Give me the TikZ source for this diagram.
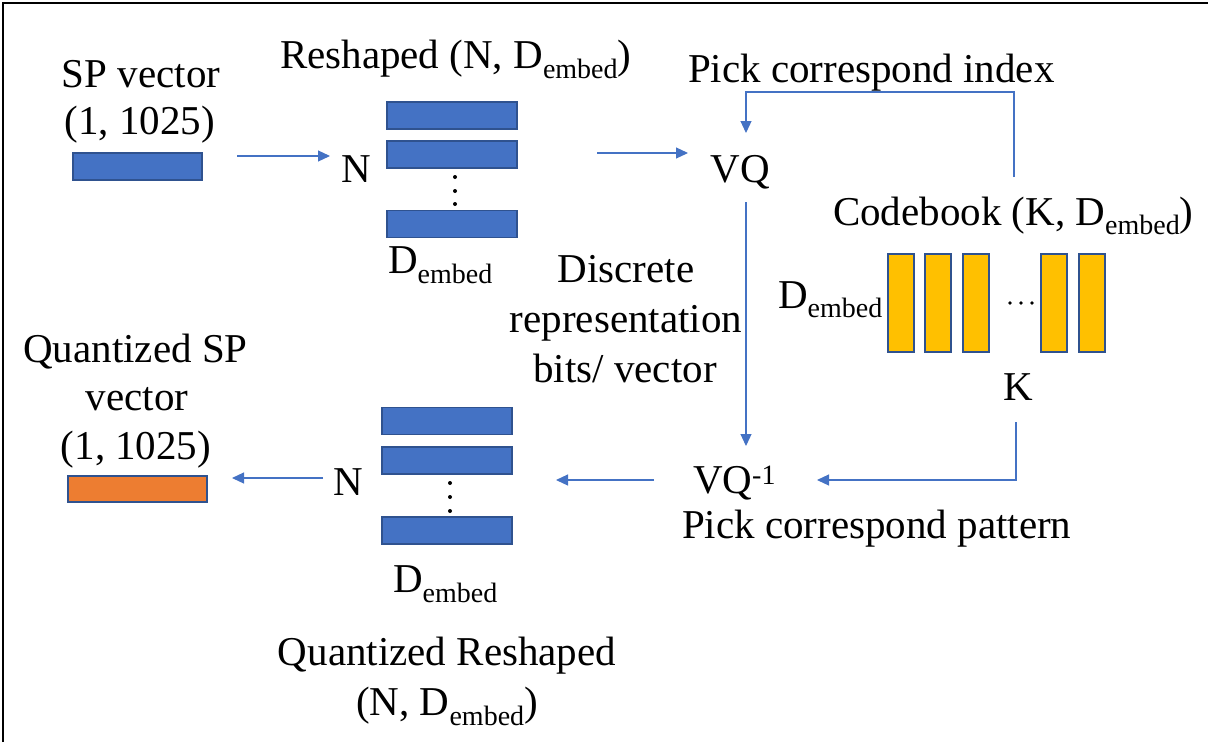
\documentclass[tikz,border=0pt]{standalone}
\usepackage{fontspec}
\setmainfont{LiberationSerif}[Extension=.ttf, UprightFont=*-Regular, BoldFont=*-Bold, ItalicFont=*-Italic]
\usetikzlibrary{arrows.meta}

\definecolor{barblue}{HTML}{4472C4}
\definecolor{edgeblue}{HTML}{2F528F}
\definecolor{barorange}{HTML}{ED7D31}
\definecolor{baryellow}{HTML}{FFC000}
\definecolor{arrowblue}{HTML}{4472C4}

\newcommand{\bigfont}{\fontsize{41}{49}\selectfont}
\newcommand{\subfont}{\fontsize{28}{28}\selectfont}
\newcommand{\Demb}[1][10pt]{D\raisebox{-#1}{\subfont embed}}

\tikzset{
  every node/.style={font=\bigfont, inner sep=0pt, outer sep=0pt},
  label/.style={anchor=base},
  labelw/.style={anchor=base west},
  bar/.style={draw=edgeblue, line width=1.3pt, minimum width=130pt, minimum height=27pt},
  bluebar/.style={bar, fill=barblue},
  orangebar/.style={bar, fill=barorange, minimum width=139pt, minimum height=26pt},
  codebar/.style={draw=edgeblue, line width=1.3pt, fill=baryellow, minimum width=26pt, minimum height=98pt},
  flow/.style={draw=arrowblue, line width=1.2pt, -{Triangle[length=12pt,width=11pt]}},
  dot/.style={circle, fill=black, minimum size=4pt}
}

\begin{document}
\begin{tikzpicture}[x=1pt, y=-1pt]
\useasboundingbox (0,0) rectangle (1208,742);

% frame on the top and left edges
\draw[line width=2.2pt] (3,742) -- (3,3) -- (1208,3);

% ---- input vector ----
\node[label] (spTitle) at (141,87) {SP vector};
\node[label] (spDim) at (140,134) {(1, 1025)};
\node[bluebar, minimum width=129pt] (spRect) at (137.5,166.5) {};

% ---- reshaped matrix ----
\node[labelw] (resTitle) at (280,68) {Reshaped (N, \Demb)};
\node[label] (nTop) at (356,182) {N};
\node[bluebar] (r1) at (452,115.5) {};
\node[bluebar] (r2) at (452,154.5) {};
\node[bluebar] (r3) at (452,224) {};
\node[dot] (rd1) at (455,177) {};
\node[dot] (rd2) at (455,191) {};
\node[dot] (rd3) at (455,204) {};
\node[labelw] (dTop) at (388,273) {\Demb};

% ---- quantizer ----
\node[label] (vq) at (740,182) {VQ};
\node[labelw] (pickIdx) at (688,82) {Pick correspond index};
\node[label] (disc1) at (626,282) {Discrete};
\node[label] (disc2) at (626,332) {representation};
\node[label] (disc3) at (625,382) {bits/ vector};

% ---- codebook ----
\node[labelw] (cbTitle) at (833,225) {Codebook (K, \Demb[9pt])};
\node[labelw] (dCb) at (778,308) {\Demb[9pt]};
\node[codebar] (c1) at (901,303) {};
\node[codebar] (c2) at (938,303) {};
\node[codebar] (c3) at (976,303) {};
\node[codebar] (c4) at (1054,303) {};
\node[codebar] (c5) at (1092,303) {};
\node[dot, minimum size=3.8pt] (cd1) at (1010,303) {};
\node[dot, minimum size=3.8pt] (cd2) at (1021,303) {};
\node[dot, minimum size=3.8pt] (cd3) at (1032,303) {};
\node[label] (kLab) at (1018,400) {K};

% ---- inverse quantizer ----
\node[labelw] (vqi) at (693,493) {VQ\raisebox{9pt}{\subfont -1}};
\node[labelw] (pickPat) at (682,538) {Pick correspond pattern};

% ---- quantized reshaped matrix ----
\node[label] (nBot) at (348.5,495) {N};
\node[bluebar] (q1) at (447,421) {};
\node[bluebar] (q2) at (447,460.5) {};
\node[bluebar] (q3) at (447,530.5) {};
\node[dot] (qd1) at (450,483) {};
\node[dot] (qd2) at (450,497) {};
\node[dot] (qd3) at (450,511) {};
\node[labelw] (dBot) at (393,592) {\Demb};
\node[label] (qrTitle) at (447,665) {Quantized Reshaped};
\node[label] (qrDim) at (447,715) {(N, \Demb)};

% ---- quantized output vector ----
\node[label] (qsTitle) at (135.5,362) {Quantized SP};
\node[label] (qsVec) at (137,410) {vector};
\node[label] (qsDim) at (136,459) {(1, 1025)};
\node[orangebar] (qsRect) at (137.5,489) {};

% ---- connector end points ----
\coordinate (a1s) at (237,156);
\coordinate (a1e) at (330,156);
\coordinate (a2s) at (597,153);
\coordinate (a2e) at (688,153);
\coordinate (fbS) at (1014,177);
\coordinate (fbA) at (1014,92);
\coordinate (fbB) at (746,92);
\coordinate (fbE) at (746,133);
\coordinate (dnS) at (746,202);
\coordinate (dnE) at (746,446);
\coordinate (kS) at (1016,422);
\coordinate (kA) at (1016,480);
\coordinate (kE) at (817,480);
\coordinate (b1s) at (654,480);
\coordinate (b1e) at (556,480);
\coordinate (b2s) at (323,478);
\coordinate (b2e) at (232,478);

% ---- connectors ----
\draw[flow] (a1s) -- (a1e);
\draw[flow] (a2s) -- (a2e);
\draw[flow] (fbS) -- (fbA) -- (fbB) -- (fbE);
\draw[flow] (dnS) -- (dnE);
\draw[flow] (kS) -- (kA) -- (kE);
\draw[flow] (b1s) -- (b1e);
\draw[flow] (b2s) -- (b2e);
\end{tikzpicture}
\end{document}
